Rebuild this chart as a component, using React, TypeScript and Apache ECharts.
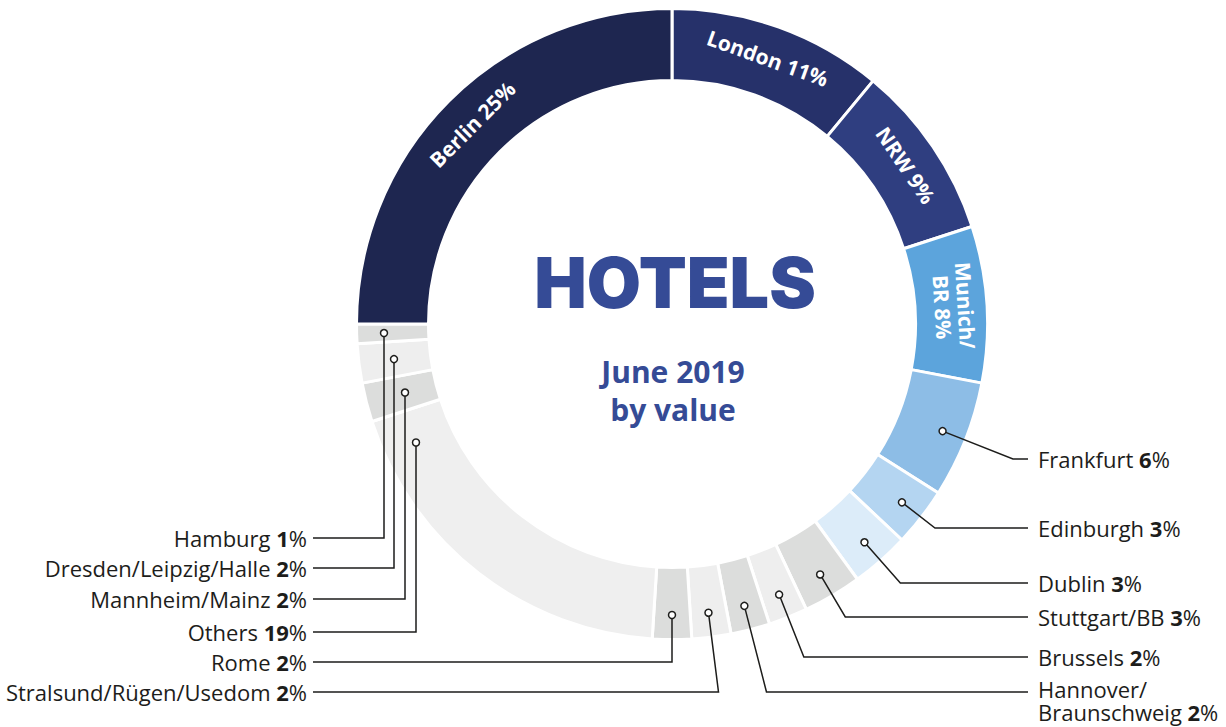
import React, { useEffect, useRef } from 'react';
import * as echarts from 'echarts';

// ---- data ----
const categories = [
  'London', 'NRW', 'Munich/BR', 'Frankfurt', 'Edinburgh', 'Dublin', 'Stuttgart/BB', 'Brussels',
  'Hannover/Braunschweig', 'Stralsund/Rügen/Usedom', 'Rome', 'Others', 'Mannheim/Mainz',
  'Dresden/Leipzig/Halle', 'Hamburg', 'Berlin',
];
const shares = [11, 9, 8, 6, 3, 3, 3, 2, 2, 2, 2, 19, 2, 2, 1, 25];
const sliceColors = [
  '#26316a', '#2f3e80', '#5ca4dc', '#8dbde6', '#b4d5f1', '#dcecf9', '#dcdddc', '#eeeeee',
  '#dcdddc', '#eeeeee', '#dcdddc', '#efefef', '#dcdddc', '#eeeeee', '#dcdddc', '#1e2650',
];
const insideLabelled = ['Berlin', 'London', 'NRW', 'Munich/BR'];
const wrappedNames = ['Munich/BR', 'Hannover/Braunschweig'];
const centerTitle = 'HOTELS';
const centerSubtitle = ['June 2019', 'by value'];

// ---- layout (positions only) ----
const W = 1226, H = 727;
const CX = 672, CY = 324, R_IN = 245, R_OUT = 314, R_DOT = 291;
const RIGHT_END = 1028, LEFT_END = 313, GAP_R = 10, GAP_L = 6;
const LABEL_LH = 23;
type Slot = { side: 'L' | 'R'; y: number; laneX?: number; frac?: number; textDy?: number };
const outsideSlots: Record<string, Slot> = {
  Frankfurt: { side: 'R', y: 459 },
  Edinburgh: { side: 'R', y: 528 },
  Dublin: { side: 'R', y: 583 },
  'Stuttgart/BB': { side: 'R', y: 617 },
  Brussels: { side: 'R', y: 657 },
  'Hannover/Braunschweig': { side: 'R', y: 692, textDy: -3 },
  Hamburg: { side: 'L', y: 538, laneX: 384 },
  'Dresden/Leipzig/Halle': { side: 'L', y: 568, laneX: 394 },
  'Mannheim/Mainz': { side: 'L', y: 599, laneX: 405 },
  Others: { side: 'L', y: 632, laneX: 416, frac: 0.9 },
  Rome: { side: 'L', y: 662 },
  'Stralsund/Rügen/Usedom': { side: 'L', y: 692 },
};

const TEXT = '#1d1d1b';
const BLUE = '#354b96';
const FONT = "'Open Sans', 'Noto Sans', sans-serif";

const total = shares.reduce((a, b) => a + b, 0);
function angleAt(i: number, frac = 0.5) {
  let cum = 0;
  for (let k = 0; k < i; k++) cum += shares[k];
  return ((cum + shares[i] * frac) / total) * 360;
}
function leader(i: number) {
  const s = outsideSlots[categories[i]];
  const th = (angleAt(i, s.frac ?? 0.5) * Math.PI) / 180;
  const sn = Math.sin(th), cs = Math.cos(th);
  let dot: number[], elbow: number[];
  if (s.laneX != null) {
    const rho = (s.laneX - CX) / sn;
    dot = [s.laneX, CY - rho * cs];
    elbow = [s.laneX, s.y];
  } else {
    dot = [CX + R_DOT * sn, CY - R_DOT * cs];
    const t = (s.y - dot[1]) / -cs;
    elbow = [dot[0] + t * sn, s.y];
  }
  const end = [s.side === 'R' ? RIGHT_END : LEFT_END, s.y];
  return { dot, points: [dot, elbow, end] };
}
function insideRotate(i: number) {
  let r = -angleAt(i);
  while (r <= -180) r += 360;
  return r;
}
function splitName(name: string) {
  if (wrappedNames.includes(name)) {
    const k = name.indexOf('/') + 1;
    return [name.slice(0, k), name.slice(k)];
  }
  return [name];
}

export default function App() {
  const ref = useRef<HTMLDivElement>(null);
  useEffect(() => {
    if (!ref.current) return;
    const chart = echarts.init(ref.current, undefined, { renderer: 'svg' });

    const graphics: any[] = [];
    categories.forEach((name, i) => {
      if (!outsideSlots[name]) return;
      const { dot, points } = leader(i);
      graphics.push({
        type: 'polyline', z: 20, silent: true,
        shape: { points },
        style: { stroke: TEXT, lineWidth: 1.5, fill: null },
      });
      graphics.push({
        type: 'circle', z: 21, silent: true,
        shape: { cx: dot[0], cy: dot[1], r: 3.5 },
        style: { fill: '#ffffff', stroke: TEXT, lineWidth: 1.5 },
      });
    });
    graphics.push({
      type: 'text', z: 30, x: 675, y: 282,
      style: {
        text: centerTitle, fill: BLUE, fontSize: 70, fontWeight: 900,
        fontFamily: "Inter, 'Open Sans', sans-serif", textAlign: 'center', textVerticalAlign: 'middle',
      },
    });
    centerSubtitle.forEach((t, k) => {
      graphics.push({
        type: 'text', z: 30, x: 673, y: 371 + k * 38,
        style: {
          text: t, fill: BLUE, fontSize: 30, fontWeight: 700, fontFamily: FONT,
          textAlign: 'center', textVerticalAlign: 'middle',
        },
      });
    });

    chart.setOption({
      animation: false,
      backgroundColor: '#ffffff',
      graphic: graphics,
      series: [
        {
          type: 'pie',
          center: [CX, CY],
          radius: [R_IN - 1.5, R_OUT + 1.5],
          startAngle: 90,
          clockwise: true,
          avoidLabelOverlap: false,
          silent: true,
          itemStyle: { borderColor: '#ffffff', borderWidth: 3 },
          labelLine: { show: false },
          label: {
            show: true,
            position: 'outside',
            formatter: (p: any) => {
              const lines = splitName(p.name);
              if (insideLabelled.includes(p.name)) {
                const ls = [...lines];
                ls[ls.length - 1] = ls[ls.length - 1] + ' ' + p.value + '%';
                return ls.map((l) => '{w|' + l + '}').join('\n');
              }
              const head = lines.slice(0, -1).map((l) => '{n|' + l + '}\n').join('');
              return head + '{n|' + lines[lines.length - 1] + ' }{b|' + p.value + '}{n|%}';
            },
            rich: {
              n: { fontFamily: FONT, fontSize: 22, color: TEXT, lineHeight: LABEL_LH },
              b: { fontFamily: FONT, fontSize: 22, color: TEXT, fontWeight: 'bold', lineHeight: LABEL_LH },
              w: { fontFamily: FONT, fontSize: 21, color: '#ffffff', fontWeight: 'bold', lineHeight: 23 },
            },
          },
          labelLayout: (p: any) => {
            const name = categories[p.dataIndex];
            const s = outsideSlots[name];
            if (!s) return {};
            const nLines = splitName(name).length;
            const firstCenter = s.y + (s.textDy ?? 0);
            return {
              x: s.side === 'R' ? RIGHT_END + GAP_R : LEFT_END - GAP_L,
              y: firstCenter + ((nLines - 1) * LABEL_LH) / 2,
              align: s.side === 'R' ? 'left' : 'right',
              verticalAlign: 'middle',
            };
          },
          data: categories.map((name, i) => ({
            name,
            value: shares[i],
            itemStyle: { color: sliceColors[i] },
            label: insideLabelled.includes(name)
              ? { position: 'inside', rotate: insideRotate(i), align: 'center' }
              : undefined,
          })),
        },
      ],
    });
    return () => chart.dispose();
  }, []);
  return (
    <div
      ref={ref}
      style={{ position: 'fixed', left: 0, top: 0, width: W, height: H, background: '#fff' }}
    />
  );
}
